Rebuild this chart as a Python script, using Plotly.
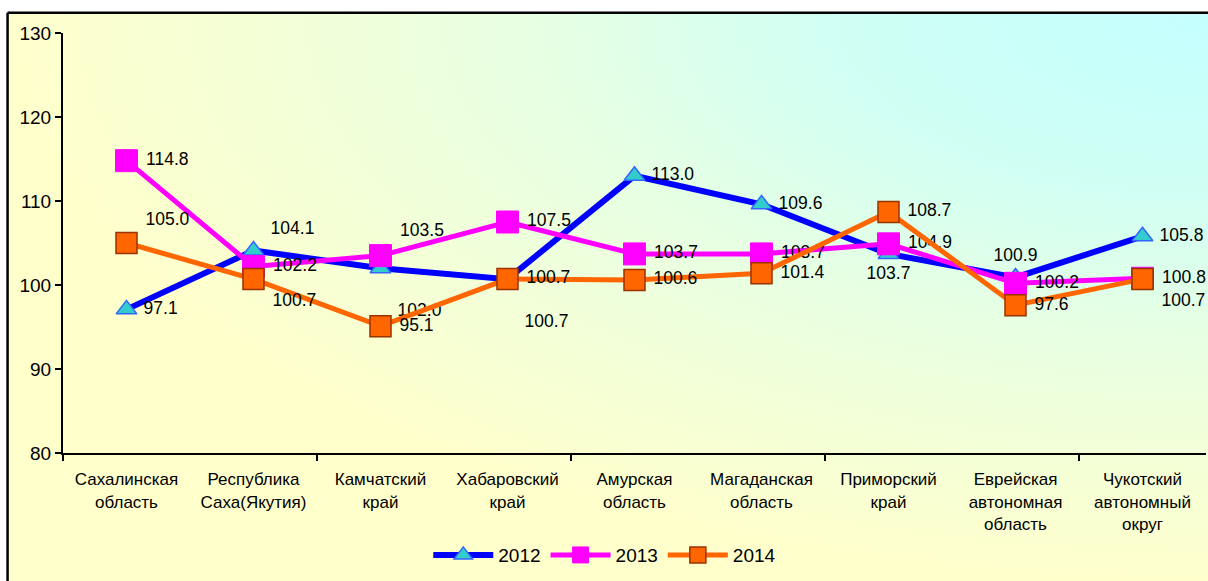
import base64
import plotly.graph_objects as go

regions = ['Сахалинская<br>область', 'Республика<br>Саха(Якутия)', 'Камчатский<br>край',
           'Хабаровский<br>край', 'Амурская<br>область', 'Магаданская<br>область',
           'Приморский<br>край', 'Еврейская<br>автономная<br>область', 'Чукотский<br>автономный<br>округ']
y2012 = [97.1, 104.1, 102.0, 100.7, 113.0, 109.6, 103.7, 100.9, 105.8]
y2013 = [114.8, 102.2, 103.5, 107.5, 103.7, 103.7, 104.9, 100.2, 100.8]
y2014 = [105.0, 100.7, 95.1, 100.7, 100.6, 101.4, 108.7, 97.6, 100.7]

pos2012 = ['middle right', 'top right', 'bottom right', 'bottom right', 'middle right',
           'middle right', 'bottom center', 'top center', 'middle right']
pos2013 = ['middle right', 'middle right', 'top right', 'middle right', 'middle right',
           'middle right', 'middle right', 'middle right', 'middle right']
pos2014 = ['top right', 'bottom right', 'middle right', 'middle right', 'middle right',
           'middle right', 'middle right', 'middle right', 'bottom right']
# labels pushed one extra line away from the marker
far2012 = [False, False, True, True, False, False, False, False, False]

FONT = 'Liberation Sans, Arial, sans-serif'
xs = list(range(len(regions)))


def labels(pos, far=None):
    out = []
    for i, p in enumerate(pos):
        t = ' %{y:.1f}' if p.endswith('right') else '%{y:.1f}'
        if far and far[i]:
            t = '<br>' + t
        out.append(t)
    return out


# background gradient like the excel "from corner" fill
svg = ('<svg xmlns="http://www.w3.org/2000/svg" width="200" height="100" viewBox="0 0 200 100" '
       'preserveAspectRatio="none"><defs><radialGradient id="g" gradientUnits="objectBoundingBox" '
       'cx="1" cy="0" r="1.05"><stop offset="0" stop-color="#C4FFFF"/>'
       '<stop offset="0.3" stop-color="#D0FFF4"/>'
       '<stop offset="0.55" stop-color="#E8FFE2"/><stop offset="0.95" stop-color="#FFFFCC"/>'
       '</radialGradient></defs><rect width="200" height="100" fill="url(#g)"/></svg>')
bg = 'data:image/svg+xml;base64,' + base64.b64encode(svg.encode()).decode()

fig = go.Figure()
fig.add_trace(go.Scatter(
    x=xs, y=y2012, name='2012', mode='lines+markers+text',
    line=dict(color='#0000FF', width=6),
    marker=dict(symbol='triangle-up', size=18, color='#33CCCC',
                line=dict(color='#3366FF', width=1.5)),
    texttemplate=labels(pos2012, far2012), textposition=pos2012,
    textfont=dict(size=17.5, color='black', family=FONT)))
fig.add_trace(go.Scatter(
    x=xs, y=y2013, name='2013', mode='lines+markers+text',
    line=dict(color='#FF00FF', width=5),
    marker=dict(symbol='square', size=22, color='#FF00FF',
                line=dict(color='#FF00FF', width=1)),
    texttemplate=labels(pos2013), textposition=pos2013,
    textfont=dict(size=17.5, color='black', family=FONT)))
fig.add_trace(go.Scatter(
    x=xs, y=y2014, name='2014', mode='lines+markers+text',
    line=dict(color='#FF6600', width=5),
    marker=dict(symbol='square', size=21, color='#FF6600',
                line=dict(color='#993300', width=1.5)),
    texttemplate=labels(pos2014), textposition=pos2014,
    textfont=dict(size=17.5, color='black', family=FONT)))

fig.update_layout(
    width=1208, height=581,
    margin=dict(l=63, r=2, t=33, b=128, autoexpand=False),
    paper_bgcolor='white', plot_bgcolor='rgba(0,0,0,0)',
    font=dict(family=FONT, color='black'),
    showlegend=True,
    legend=dict(orientation='h', x=0.474, xanchor='center', y=-0.243, yanchor='middle',
                font=dict(size=19), bgcolor='rgba(0,0,0,0)', itemwidth=60),
    images=[dict(source=bg, xref='paper', yref='paper', x=-0.049, y=1.048,
                 sizex=1.06, sizey=1.36, sizing='stretch', layer='below')],
    shapes=[dict(type='line', xref='paper', yref='paper', x0=-0.0485, y0=1.048,
                 x1=1.1, y1=1.048, line=dict(color='black', width=2.5)),
            dict(type='line', xref='paper', yref='paper', x0=-0.0485, y0=-0.5,
                 x1=-0.0485, y1=1.048, line=dict(color='black', width=2.5))],
)
fig.update_xaxes(
    range=[-0.5, 8.5], tickmode='array', tickvals=xs, ticktext=regions,
    ticks='outside', ticklen=10, tickcolor='rgba(0,0,0,0)', automargin=False,
    tickfont=dict(size=17), showgrid=False, zeroline=False,
    showline=True, linecolor='black', linewidth=2,
    minor=dict(tickmode='array', tickvals=[-0.5, 1.5, 3.5, 5.5, 7.5], ticks='outside',
               ticklen=6, tickwidth=2, tickcolor='black', showgrid=False))
fig.update_yaxes(
    range=[80, 130], dtick=10, tick0=80, ticks='outside', ticklen=6, tickwidth=2,
    tickcolor='black', tickfont=dict(size=19), showgrid=False, zeroline=False,
    showline=True, linecolor='black', linewidth=2, automargin=False)

# drop the page margin and scrollbars so the figure fills the window
fig.write_html('out.html', config={'displayModeBar': False}, post_script=(
    "document.documentElement.style.overflow='hidden';"
    "document.body.style.overflow='hidden';"
    "document.body.style.margin='0';"))
